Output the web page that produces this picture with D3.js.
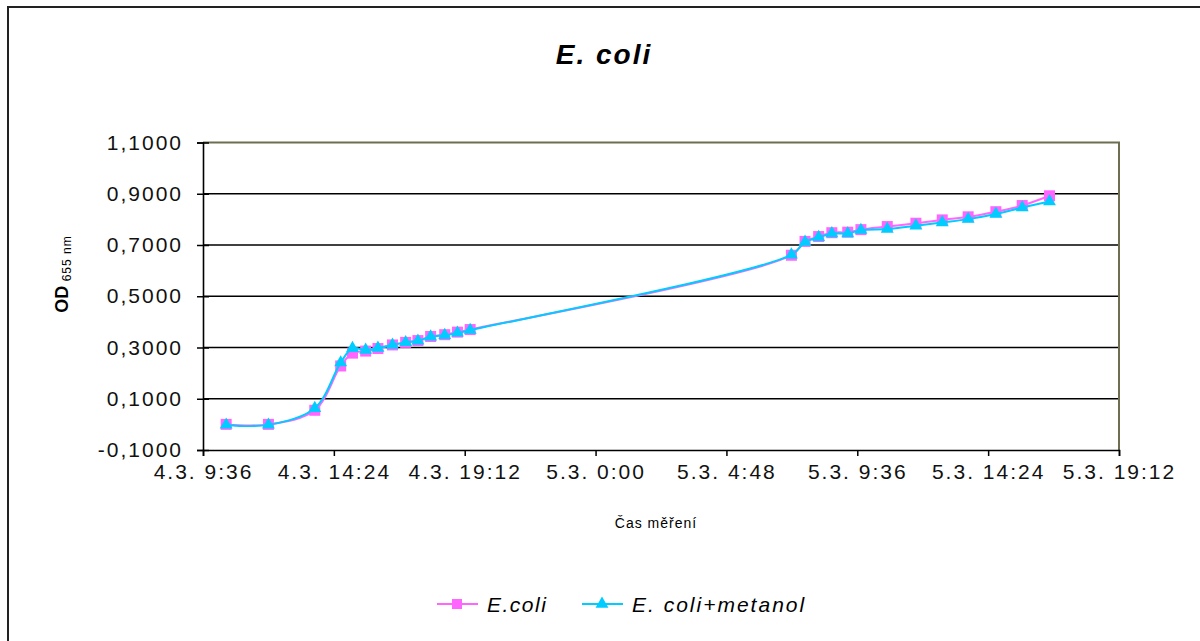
<!DOCTYPE html>
<html>
<head>
<meta charset="utf-8">
<script src="https://cdn.jsdelivr.net/npm/d3@7"></script>
<style>
  body { margin: 0; background: #fff; }
  svg { display: block; font-family: "Liberation Sans", Arial, sans-serif; }
</style>
</head>
<body>
<script>
// measurement times (4.3. and 5.3.)
const times = [
  "2008-03-04T10:27", "2008-03-04T12:00", "2008-03-04T13:42", "2008-03-04T14:39",
  "2008-03-04T15:05", "2008-03-04T15:34", "2008-03-04T16:01", "2008-03-04T16:33",
  "2008-03-04T17:02", "2008-03-04T17:29", "2008-03-04T17:57", "2008-03-04T18:28",
  "2008-03-04T18:56", "2008-03-04T19:24",
  "2008-03-05T07:11", "2008-03-05T07:41", "2008-03-05T08:11", "2008-03-05T08:40",
  "2008-03-05T09:15", "2008-03-05T09:44", "2008-03-05T10:42", "2008-03-05T11:45",
  "2008-03-05T12:43", "2008-03-05T13:40", "2008-03-05T14:41", "2008-03-05T15:39",
  "2008-03-05T16:39"
];
const ecoli = [
  0.000, 0.000, 0.055, 0.228, 0.278, 0.286, 0.296, 0.310, 0.320, 0.327, 0.343, 0.350, 0.360, 0.370,
  0.660, 0.714, 0.733, 0.748, 0.750, 0.760, 0.772, 0.785, 0.798, 0.810, 0.830, 0.854, 0.892
];
const ecoliMetanol = [
  -0.002, -0.002, 0.063, 0.241, 0.297, 0.290, 0.298, 0.310, 0.320, 0.326, 0.342, 0.348, 0.357, 0.368,
  0.662, 0.712, 0.730, 0.745, 0.745, 0.758, 0.762, 0.775, 0.788, 0.801, 0.821, 0.846, 0.870
];
const seriesNames = ["E.coli", "E. coli+metanol"];
const yTicks = [-0.1, 0.1, 0.3, 0.5, 0.7, 0.9, 1.1];
const xStart = "2008-03-04T09:36", xEnd = "2008-03-05T19:12";

const W = 1200, H = 641;
const pLeft = 203, pRight = 1119, pTop = 142.5, pBottom = 450;
const pink = "#ff66ff", cyan = "#00ccff";

const parse = d3.timeParse("%Y-%m-%dT%H:%M");
const svg = d3.select("body").append("svg").attr("width", W).attr("height", H);

// outer chart frame
svg.append("path")
  .attr("d", "M8,641V7H1200")
  .attr("fill", "none").attr("stroke", "#222").attr("stroke-width", 2);

const x = d3.scaleTime().domain([parse(xStart), parse(xEnd)]).range([pLeft, pRight]);
const y = d3.scaleLinear().domain([-0.1, 1.1]).range([pBottom, pTop]);

// gridlines
svg.append("g").selectAll("line")
  .data(yTicks.slice(1, -1))
  .join("line")
  .attr("x1", pLeft).attr("x2", pRight)
  .attr("y1", d => y(d)).attr("y2", d => y(d))
  .attr("stroke", "#000").attr("stroke-width", 1.6);

// plot area border top/right
svg.append("path")
  .attr("d", `M${pLeft},${pTop}H${pRight}V${pBottom}`)
  .attr("fill", "none").attr("stroke", "#6e6e50").attr("stroke-width", 2);

// y axis
const yAxis = svg.append("g")
  .attr("transform", `translate(${pLeft},0)`)
  .call(d3.axisLeft(y).tickValues(yTicks).tickSize(6).tickPadding(14)
    .tickFormat(d => d3.format(".4f")(d).replace(".", ",").replace("−", "-")));
yAxis.select(".domain").attr("stroke", "#000").attr("stroke-width", 1.6);
yAxis.selectAll(".tick line").attr("x2", 6).attr("x1", -6).attr("stroke-width", 1.5);
yAxis.selectAll("text").style("font-size", "21px").style("letter-spacing", "2px").attr("fill", "#111");

// x axis
const fmt = d3.timeFormat("%-d.%-m. %-H:%M");
const xAxis = svg.append("g")
  .attr("transform", `translate(0,${pBottom})`)
  .call(d3.axisBottom(x).tickSize(6).tickPadding(8)
    .tickValues(d3.range(8).map(i => d3.timeMinute.offset(parse(xStart), i * 288)))
    .tickFormat(fmt));
xAxis.select(".domain").attr("stroke", "#000").attr("stroke-width", 1.6);
xAxis.selectAll(".tick line").attr("stroke-width", 1.5);
xAxis.selectAll("text").style("font-size", "21px").style("letter-spacing", "2px").attr("fill", "#111");

// titles
svg.append("text")
  .attr("x", 604).attr("y", 64)
  .attr("text-anchor", "middle")
  .style("font-size", "28px").style("font-weight", "bold").style("font-style", "italic")
  .style("letter-spacing", "2px")
  .text("E. coli");

svg.append("text")
  .attr("x", 656).attr("y", 528)
  .attr("text-anchor", "middle")
  .style("font-size", "14px").style("letter-spacing", "1px")
  .text("Čas měření");

const yt = svg.append("text")
  .attr("transform", "translate(68,274) rotate(-90)")
  .attr("text-anchor", "middle");
yt.append("tspan").style("font-size", "18px").style("font-weight", "bold").text("OD");
yt.append("tspan").style("font-size", "12px").attr("dy", 3).style("letter-spacing", "1px").text(" 655 nm");

// series
const rows = times.map((t, i) => ({ t: parse(t), a: ecoli[i], b: ecoliMetanol[i] }));
const line = key => d3.line().curve(d3.curveCatmullRom.alpha(0.5))
  .x(d => x(d.t)).y(d => y(d[key]));

const tri = d3.symbol().type(d3.symbolTriangle).size(72);

svg.append("path").datum(rows)
  .attr("fill", "none").attr("stroke", pink).attr("stroke-width", 2)
  .attr("d", line("a"));
svg.append("g").selectAll("rect")
  .data(rows).join("rect")
  .attr("x", d => x(d.t) - 5.5).attr("y", d => y(d.a) - 5.5)
  .attr("width", 11).attr("height", 11)
  .attr("fill", pink);

svg.append("path").datum(rows)
  .attr("fill", "none").attr("stroke", cyan).attr("stroke-width", 2)
  .attr("d", line("b"));
svg.append("g").selectAll("path")
  .data(rows).join("path")
  .attr("transform", d => `translate(${x(d.t)},${y(d.b)})`)
  .attr("d", tri)
  .attr("fill", cyan);

// legend
const lg = svg.append("g");
lg.append("line").attr("x1", 437).attr("x2", 478).attr("y1", 604).attr("y2", 604)
  .attr("stroke", pink).attr("stroke-width", 2);
lg.append("rect").attr("x", 452).attr("y", 599).attr("width", 10).attr("height", 10).attr("fill", pink);
lg.append("text").attr("x", 487).attr("y", 612).style("font-size", "21px").style("font-style", "italic")
  .style("letter-spacing", "1.5px").text(seriesNames[0]);

lg.append("line").attr("x1", 582).attr("x2", 623).attr("y1", 604).attr("y2", 604)
  .attr("stroke", cyan).attr("stroke-width", 2);
lg.append("path").attr("transform", "translate(602,604)").attr("d", tri).attr("fill", cyan);
lg.append("text").attr("x", 632).attr("y", 612).style("font-size", "21px").style("font-style", "italic")
  .style("letter-spacing", "2px").text(seriesNames[1]);
</script>
</body>
</html>
